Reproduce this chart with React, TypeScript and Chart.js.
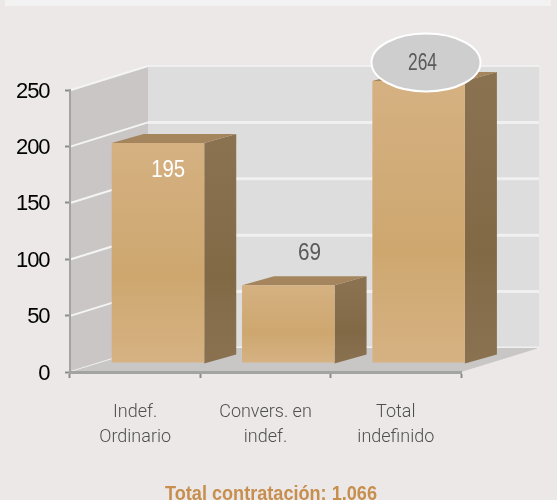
import React, { useEffect, useRef } from "react";
import { Chart, registerables } from "chart.js";

Chart.register(...registerables);

const categories = [["Indef.", "Ordinario"], ["Convers. en", "indef."], ["Total", "indefinido"]];
const values = [195, 69, 264];
const yTicks = [0, 50, 100, 150, 200, 250];
const totalLabel = "Total contratación: 1.066";

const DEPTH_X = 78;
const DEPTH_Y = 24;
const BAR_DX = 22.8;
const BAR_DY = 9;
const SIDE_X = 32;
const SIDE_Y = 9;
const VALUE_FONT = "23px 'Liberation Sans'";

const poly = (ctx: CanvasRenderingContext2D, pts: number[][], fill: any) => {
  ctx.beginPath();
  pts.forEach(([x, y], i) => (i ? ctx.lineTo(x, y) : ctx.moveTo(x, y)));
  ctx.closePath();
  ctx.fillStyle = fill;
  ctx.fill();
};

const box3d = {
  id: "box3d",
  beforeDraw(chart: any) {
    const { ctx, chartArea: a, scales } = chart;
    ctx.save();
    ctx.fillStyle = "#ede8e8";
    ctx.fillRect(0, 0, chart.width, chart.height);
    ctx.fillStyle = "#f2f2f2";
    ctx.fillRect(5, 0, 546, 6);
    poly(ctx, [[a.left + DEPTH_X, a.top - DEPTH_Y], [a.right + DEPTH_X, a.top - DEPTH_Y], [a.right + DEPTH_X, a.bottom - DEPTH_Y], [a.left + DEPTH_X, a.bottom - DEPTH_Y]], "#dddddd");
    poly(ctx, [[a.left, a.top], [a.left + DEPTH_X, a.top - DEPTH_Y], [a.left + DEPTH_X, a.bottom - DEPTH_Y], [a.left, a.bottom]], "#c9c6c5");
    yTicks.forEach((t) => {
      const y = scales.y.getPixelForValue(t);
      ctx.strokeStyle = "#f1f0f0";
      ctx.lineWidth = t === 250 ? 2 : 3;
      ctx.beginPath();
      ctx.moveTo(a.left + DEPTH_X, y - DEPTH_Y);
      ctx.lineTo(a.right + DEPTH_X, y - DEPTH_Y);
      ctx.stroke();
      ctx.strokeStyle = "#f5f4f4";
      ctx.lineWidth = 2;
      ctx.beginPath();
      ctx.moveTo(a.left + 1, y);
      ctx.lineTo(a.left + DEPTH_X, y - DEPTH_Y);
      ctx.stroke();
    });
    poly(ctx, [[a.left, a.bottom], [a.right, a.bottom], [a.right + DEPTH_X, a.bottom - DEPTH_Y], [a.left + DEPTH_X, a.bottom - DEPTH_Y]], "#c9c7c6");
    ctx.restore();
  },
  beforeDatasetsDraw(chart: any) {
    const { ctx, chartArea: a } = chart;
    const bars = chart.getDatasetMeta(0).data;
    ctx.save();
    ctx.translate(BAR_DX, -BAR_DY);
    bars.forEach((b: any) => {
      const l = b.x - b.width / 2;
      const r = b.x + b.width / 2;
      const top = Math.max(b.y, a.top);
      const bot = b.base + 1;
      const side = ctx.createLinearGradient(0, top, 0, bot);
      side.addColorStop(0, "#8a7251");
      side.addColorStop(0.6, "#826946");
      side.addColorStop(1, "#8a7251");
      poly(ctx, [[r, top], [r + SIDE_X, top - SIDE_Y], [r + SIDE_X, bot - SIDE_Y], [r, bot]], side);
      poly(ctx, [[l, top], [l + SIDE_X, top - SIDE_Y], [r + SIDE_X, top - SIDE_Y], [r, top]], "#a5855d");
    });
  },
  afterDatasetsDraw(chart: any) {
    const { ctx } = chart;
    ctx.restore();
    const bars = chart.getDatasetMeta(0).data;
    ctx.save();
    ctx.textAlign = "center";
    ctx.textBaseline = "middle";
    ctx.beginPath();
    ctx.ellipse(426, 62.5, 54.5, 29, 0, 0, Math.PI * 2);
    ctx.fillStyle = "#cecece";
    ctx.fill();
    ctx.strokeStyle = "#ffffff";
    ctx.lineWidth = 2;
    ctx.stroke();
    ctx.font = VALUE_FONT;
    ctx.fillStyle = "#ffffff";
    ctx.fillText(String(values[0]), bars[0].x + 33, bars[0].y + 19, 34);
    ctx.fillStyle = "#5a5a5a";
    ctx.fillText(String(values[1]), bars[1].x + 44, bars[1].y - 41, 23);
    ctx.fillText(String(values[2]), 422.5, 64, 29);
    ctx.fillStyle = "#c68f4f";
    ctx.font = "bold 20px 'Liberation Sans'";
    ctx.textBaseline = "alphabetic";
    ctx.fillText(totalLabel, 271, 500, 212);
    ctx.restore();
  },
};

export default function App() {
  const ref = useRef<HTMLCanvasElement>(null);
  useEffect(() => {
    const chart = new Chart(ref.current!, {
      type: "bar",
      data: {
        labels: categories,
        datasets: [
          {
            data: values,
            barPercentage: 0.71,
            categoryPercentage: 1,
            borderWidth: 0,
            backgroundColor: (c: any) => {
              const chartRef = c.chart;
              if (!chartRef.chartArea || c.parsed === undefined) return "#d0aa74";
              const y = chartRef.scales.y;
              const top = Math.max(y.getPixelForValue(c.parsed.y), chartRef.chartArea.top);
              const g = chartRef.ctx.createLinearGradient(0, top, 0, y.getPixelForValue(0));
              g.addColorStop(0, "#d5b182");
              g.addColorStop(0.6, "#cea76f");
              g.addColorStop(1, "#d6b283");
              return g;
            },
          },
        ],
      },
      plugins: [box3d],
      options: {
        responsive: false,
        animation: false,
        layout: { padding: { left: 0, top: 90, right: 96, bottom: 0 } },
        plugins: { legend: { display: false }, title: { display: false }, tooltip: { enabled: false } },
        scales: {
          x: {
            afterFit: (s: any) => { s.height = 128; },
            border: { color: "#a3a3a3", width: 3 },
            grid: { drawOnChartArea: false, drawTicks: true, tickLength: 6, color: "#8c8c8c", tickWidth: 2 },
            ticks: {
              color: "#4f4f4f",
              padding: 22,
              maxRotation: 0,
              autoSkip: false,
              font: { family: "Roboto, 'Liberation Sans'", weight: "300", size: 18, lineHeight: 1.39 },
            },
          },
          y: {
            min: 0,
            max: 250,
            afterFit: (s: any) => {
              s.width = 70;
              if (!s.__narrow) {
                s.__narrow = true;
                const draw = s.drawLabels;
                s.drawLabels = function (area: any) {
                  s.ctx.letterSpacing = "-1.1px";
                  draw.call(s, area);
                  s.ctx.letterSpacing = "0px";
                };
              }
            },
            afterBuildTicks: (s: any) => { s.ticks = yTicks.map((value) => ({ value })); },
            border: { color: "#a3a3a3", width: 2 },
            grid: { drawOnChartArea: false, drawTicks: true, tickLength: 5, color: "#8c8c8c", tickWidth: 2 },
            ticks: { color: "#000000", padding: 15.5, labelOffset: 1.5, font: { family: "'Liberation Sans'", size: 22 } },
          },
        },
      },
    });
    return () => chart.destroy();
  }, []);
  return (
    <div style={{ position: "fixed", left: 0, top: 0, width: 557, height: 500 }}>
      <canvas ref={ref} width={557} height={500} style={{ display: "block" }} />
    </div>
  );
}
